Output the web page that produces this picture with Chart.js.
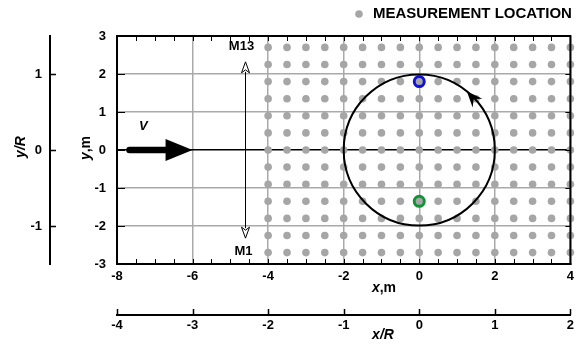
<!DOCTYPE html>
<html>
<head>
<meta charset="utf-8">
<script src="https://cdn.jsdelivr.net/npm/chart.js@4/dist/chart.umd.min.js"></script>
<style>
  html, body { margin: 0; padding: 0; background: #fff; }
  #wrap { width: 579px; height: 344px; position: relative; }
</style>
</head>
<body>
<div id="wrap"><canvas id="c" width="579" height="344"></canvas></div>
<script>
// ---- data ----
const gridColumnsX = [-4, -3.5, -3, -2.5, -2, -1.5, -1, -0.5, 0, 0.5, 1, 1.5, 2, 2.5, 3, 3.5, 4];
const gridRowsY = [-2.7, -2.25, -1.8, -1.35, -0.9, -0.45, 0, 0.45, 0.9, 1.35, 1.8, 2.25, 2.7];
const bluePoint = [0, 1.8];
const greenPoint = [0, -1.35];
const rotorCenter = [0, 0];
const rotorRadius = 2;           // m
const rotorArrowAngle = 51;      // degrees, position of arrowhead on the circle
const xTicksM = [-8, -6, -4, -2, 0, 2, 4];
const yTicksM = [-3, -2, -1, 0, 1, 2, 3];
const xTicksR = [-4, -3, -2, -1, 0, 1, 2];
const yTicksR = [-1, 0, 1];
const probeX = -4.6;             // M1..M13 traverse line
const probeEnds = [-2.32, 2.32];
const flowArrow = [-7.67, -6];   // V arrow start / tip (x, at y = 0)
const legendLabel = 'MEASUREMENT LOCATION';

const measurementPoints = [];
for (const yv of gridRowsY) for (const xv of gridColumnsX) measurementPoints.push({x: xv, y: yv});

const FONT = "'Liberation Sans', Arial, Helvetica, sans-serif";
const tickFont = {family: FONT, size: 13, weight: 'bold'};
const GRID = '#a9a9a9';
const DOT = '#a6a6a6';

function setTicks(arr) { return (s) => { s.ticks = arr.map(v => ({value: v})); }; }

const deco = {
  id: 'deco',
  afterDatasetsDraw(chart) {
    const {ctx, chartArea: a} = chart;
    const {x, y, xR, yR} = chart.scales;
    ctx.save();
    // top / right frame
    ctx.strokeStyle = '#000';
    ctx.lineWidth = 2;
    ctx.beginPath();
    ctx.moveTo(a.left - 1, a.top);
    ctx.lineTo(a.right, a.top);
    ctx.lineTo(a.right, a.bottom + 1);
    ctx.stroke();
    // minor ticks on top and bottom (every 0.5 m)
    ctx.lineWidth = 1;
    ctx.beginPath();
    for (let v = x.min; v <= x.max + 1e-9; v += 0.5) {
      const px = Math.round(x.getPixelForValue(v)) + 0.5;
      ctx.moveTo(px, a.top); ctx.lineTo(px, a.top + 5);
      ctx.moveTo(px, a.bottom); ctx.lineTo(px, a.bottom - 5);
    }
    // y ticks left (inward) and right (inward)
    for (const v of yTicksM) {
      const py = Math.round(y.getPixelForValue(v)) + 0.5;
      ctx.moveTo(a.left, py); ctx.lineTo(a.left + 8, py);
      ctx.moveTo(a.right, py); ctx.lineTo(a.right - 5, py);
    }
    ctx.stroke();
    // secondary axes ticks
    ctx.lineWidth = 1.5;
    ctx.beginPath();
    for (const v of yTicksR) {
      const py = Math.round(yR.getPixelForValue(v)) + 0.5;
      ctx.moveTo(yR.right, py); ctx.lineTo(yR.right + 6, py);
    }
    for (const v of xTicksR) {
      const px = Math.round(xR.getPixelForValue(v)) + 0.5;
      ctx.moveTo(px, xR.top); ctx.lineTo(px, xR.top - 6);
    }
    ctx.stroke();

    // rotor rotation arrowhead
    const cx = x.getPixelForValue(rotorCenter[0]);
    const cy = y.getPixelForValue(rotorCenter[1]);
    const r = Math.abs(x.getPixelForValue(rotorRadius) - x.getPixelForValue(0));
    const th = rotorArrowAngle * Math.PI / 180;
    const tip = [cx + r * Math.cos(th), cy - r * Math.sin(th)];
    const d = [-Math.sin(th - 0.16), -Math.cos(th - 0.16)];
    const n = [-d[1], d[0]];
    const len = 16, hw = 6.5;
    const back = [tip[0] - d[0] * len, tip[1] - d[1] * len];
    const notch = [tip[0] - d[0] * len * 0.65, tip[1] - d[1] * len * 0.65];
    ctx.fillStyle = '#000';
    ctx.beginPath();
    ctx.moveTo(tip[0], tip[1]);
    ctx.lineTo(back[0] + n[0] * hw, back[1] + n[1] * hw);
    ctx.lineTo(notch[0], notch[1]);
    ctx.lineTo(back[0] - n[0] * hw, back[1] - n[1] * hw);
    ctx.closePath();
    ctx.fill();

    // flow arrow V
    const fy = y.getPixelForValue(0);
    const fx0 = x.getPixelForValue(flowArrow[0]);
    const fx1 = x.getPixelForValue(flowArrow[1]);
    ctx.strokeStyle = '#000';
    ctx.lineWidth = 6.5;
    ctx.lineCap = 'round';
    ctx.beginPath();
    ctx.moveTo(fx0, fy); ctx.lineTo(fx1 - 24, fy);
    ctx.stroke();
    ctx.lineCap = 'butt';
    ctx.beginPath();
    ctx.moveTo(fx1, fy);
    ctx.lineTo(fx1 - 27, fy - 11);
    ctx.lineTo(fx1 - 27, fy + 11);
    ctx.closePath();
    ctx.fill();

    // probe traverse line with open arrowheads
    const px = Math.round(x.getPixelForValue(probeX)) + 0.5;
    const pyTop = y.getPixelForValue(probeEnds[1]);
    const pyBot = y.getPixelForValue(probeEnds[0]);
    ctx.lineWidth = 1;
    ctx.beginPath();
    ctx.moveTo(px, pyTop + 10); ctx.lineTo(px, pyBot - 10);
    ctx.stroke();
    ctx.fillStyle = '#fff';
    ctx.beginPath();
    ctx.moveTo(px, pyTop); ctx.lineTo(px - 4, pyTop + 11); ctx.lineTo(px, pyTop + 8); ctx.lineTo(px + 4, pyTop + 11); ctx.closePath();
    ctx.fill(); ctx.stroke();
    ctx.beginPath();
    ctx.moveTo(px, pyBot); ctx.lineTo(px - 4, pyBot - 11); ctx.lineTo(px, pyBot - 8); ctx.lineTo(px + 4, pyBot - 11); ctx.closePath();
    ctx.fill(); ctx.stroke();

    // labels
    ctx.fillStyle = '#000';
    ctx.textAlign = 'center';
    ctx.textBaseline = 'middle';
    ctx.font = 'bold 13px ' + FONT;
    ctx.fillText('M13', px - 4, pyTop - 15);
    ctx.fillText('M1', px - 2, pyBot + 13);
    ctx.font = 'italic bold 13px ' + FONT;
    ctx.fillText('V', x.getPixelForValue(-7.3), fy - 24);
    ctx.restore();
  },
  afterDraw(chart) {
    const {ctx} = chart;
    ctx.save();
    ctx.textBaseline = 'middle';
    // legend
    ctx.fillStyle = DOT;
    ctx.beginPath(); ctx.arc(359, 14, 3.8, 0, Math.PI * 2); ctx.fill();
    ctx.fillStyle = '#000';
    ctx.textAlign = 'left';
    ctx.font = 'bold 15px ' + FONT;
    ctx.fillText(legendLabel, 373, 13.5);

    // axis titles (mixed italic / upright)
    function mixed(parts, cxp, cyp, rot) {
      ctx.save();
      ctx.translate(cxp, cyp);
      if (rot) ctx.rotate(-Math.PI / 2);
      let total = 0;
      for (const p of parts) { ctx.font = p[1] + ' 14px ' + FONT; total += ctx.measureText(p[0]).width; }
      let xx = -total / 2;
      ctx.textAlign = 'left';
      for (const p of parts) { ctx.font = p[1] + ' 14px ' + FONT; ctx.fillText(p[0], xx, 0); xx += ctx.measureText(p[0]).width; }
      ctx.restore();
    }
    mixed([['x', 'italic bold'], [',m', 'bold']], 384, 288, false);
    mixed([['x/R', 'italic bold']], 383, 335, false);
    mixed([['y', 'italic bold'], [',m', 'bold']], 86, 148, true);
    mixed([['y/R', 'italic bold']], 21, 147, true);
    ctx.restore();
  }
};

new Chart(document.getElementById('c'), {
  type: 'scatter',
  data: {
    datasets: [
      { label: 'blue', data: [{x: bluePoint[0], y: bluePoint[1]}], pointRadius: 5, pointBorderWidth: 3,
        pointBorderColor: '#1010d8', pointBackgroundColor: 'rgba(0,0,0,0)', clip: false },
      { label: 'green', data: [{x: greenPoint[0], y: greenPoint[1]}], pointRadius: 5, pointBorderWidth: 3,
        pointBorderColor: '#129236', pointBackgroundColor: 'rgba(0,0,0,0)', clip: false },
      { label: 'rotor', data: [{x: rotorCenter[0], y: rotorCenter[1]}],
        pointRadius: (c) => {
          const sx = c.chart.scales.x;
          if (!sx || !isFinite(sx.getPixelForValue(0))) return 0;
          return Math.abs(sx.getPixelForValue(rotorRadius) - sx.getPixelForValue(0));
        },
        pointBorderWidth: 2, pointBorderColor: '#000', pointBackgroundColor: 'rgba(0,0,0,0)', clip: false },
      { label: legendLabel, data: measurementPoints, pointRadius: 3.8, pointBorderWidth: 0,
        pointBackgroundColor: DOT, pointBorderColor: DOT, clip: false }
    ]
  },
  options: {
    responsive: false,
    animation: false,
    events: [],
    layout: { padding: { top: 36, right: 8, left: 0, bottom: 0 } },
    plugins: { legend: { display: false }, tooltip: { enabled: false } },
    scales: {
      x: {
        type: 'linear', position: 'bottom', min: -8, max: 4, weight: 0,
        afterBuildTicks: setTicks(xTicksM),
        afterFit: (s) => { s.height = 51; },
        grid: { color: GRID, lineWidth: 1.5, drawTicks: false },
        border: { display: true, color: '#000', width: 2 },
        ticks: { font: tickFont, color: '#000', padding: 5, maxRotation: 0, autoSkip: false }
      },
      xR: {
        type: 'linear', position: 'bottom', min: -4, max: 2, weight: 1,
        afterBuildTicks: setTicks(xTicksR),
        afterFit: (s) => { s.height = 29; },
        grid: { display: false, drawTicks: false, drawOnChartArea: false },
        border: { display: true, color: '#000', width: 2 },
        ticks: { font: tickFont, color: '#000', padding: 3, maxRotation: 0, autoSkip: false }
      },
      y: {
        type: 'linear', position: 'left', min: -3, max: 3, weight: 0,
        afterBuildTicks: setTicks(yTicksM),
        afterFit: (s) => { s.width = 67; },
        grid: { color: (c) => (c.tick && c.tick.value === 0 ? '#000' : GRID), lineWidth: 1.5, drawTicks: false },
        border: { display: true, color: '#000', width: 2 },
        ticks: { font: tickFont, color: '#000', padding: 11, autoSkip: false }
      },
      yR: {
        type: 'linear', position: 'left', min: -1.5, max: 1.5, weight: 1,
        afterBuildTicks: setTicks(yTicksR),
        afterFit: (s) => { s.width = 50; },
        grid: { display: false, drawTicks: false, drawOnChartArea: false },
        border: { display: true, color: '#000', width: 2 },
        ticks: { font: tickFont, color: '#000', padding: 8, autoSkip: false }
      }
    }
  },
  plugins: [deco]
});
</script>
</body>
</html>
